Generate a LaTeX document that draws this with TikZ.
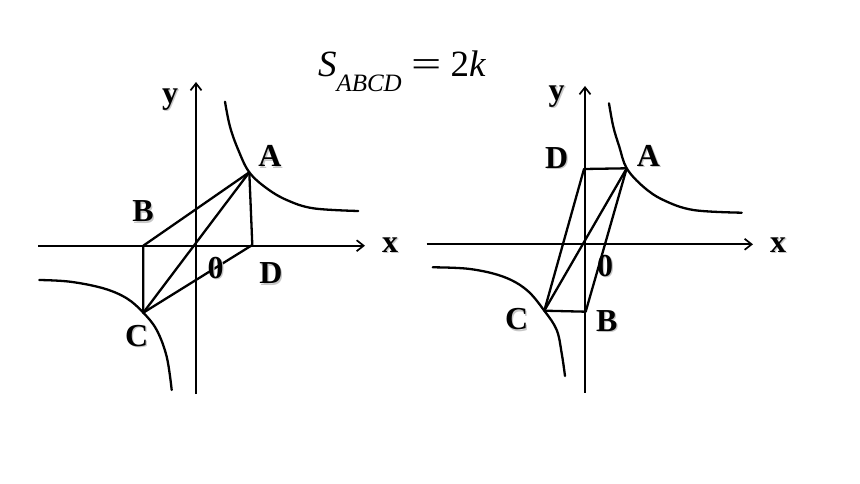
\documentclass[tikz,border=0pt]{standalone}
\usepackage{fontspec}
\setmainfont{Liberation Serif}
\usetikzlibrary{arrows.meta}
\newcommand\shlbl[1]{\makebox[0pt][l]{\hspace*{1.3pt}\raisebox{-1.3pt}{\color{black!22}#1}}#1}
\tikzset{
  axisline/.style={line width=2pt,-{Straight Barb[length=7pt,width=11pt,line width=1.7pt]}},
  edge/.style={line width=2.3pt,line join=round},
  hyper/.style={line width=2.3pt,line cap=round},
  lab/.style={inner sep=0pt,font=\fontsize{32}{32}\selectfont\bfseries},
  title/.style={inner sep=0pt,font=\fontsize{37}{37}\selectfont}
}
\begin{document}
\begin{tikzpicture}[x=1pt,y=-1pt]
\useasboundingbox[fill=white] (0,0) rectangle (860,484);
% title
\node[title,anchor=base] (t) at (402,77) {\textit{S}\raisebox{-0.38em}{\fontsize{25}{25}\selectfont\textit{ABCD}}\hspace{0.25em}\scalebox{1.45}[1]{=}\hspace{0.25em}2\textit{k}};
% ---------- left figure ----------
\coordinate (Lxs) at (38,245.7);
\coordinate (Lxe) at (365,245.7);
\coordinate (Lys) at (196,394);
\coordinate (Lye) at (196,82);
\draw[axisline] (Lxs) -- (Lxe);
\draw[axisline] (Lys) -- (Lye);
\coordinate (LA) at (249.3,172.3);
\coordinate (LB) at (143.3,245.7);
\coordinate (LC) at (143.3,312.7);
\coordinate (LD) at (252.3,245);
\draw[edge] (LA) -- (LB) -- (LC) -- (LD) -- cycle;
\draw[edge] (LA) -- (LC);
\draw[hyper] plot[smooth,tension=0.6] coordinates {(225,101.7) (230,126.7) (238.3,150) (249.3,172.3) (266.7,188.3) (286.7,200) (313.3,208.3) (358.3,211)};
\draw[hyper] plot[smooth,tension=0.6] coordinates {(39.3,280) (70,281.7) (103.3,288.3) (126.7,298.3) (143.3,312.7) (156.7,330) (166.7,356.7) (171.7,390)};
\node[lab] (Ly) at (170,100) {\shlbl{y}};
\node[lab] (LlA) at (270,157) {\shlbl{A}};
\node[lab] (LlB) at (143,212) {\shlbl{B}};
\node[lab] (Llx) at (390,246) {\shlbl{x}};
\node[lab] (Ll0) at (215.5,268.3) {\shlbl{0}};
\node[lab] (LlD) at (271,274) {\shlbl{D}};
\node[lab] (LlC) at (136.7,336.7) {\shlbl{C}};
% ---------- right figure ----------
\coordinate (Rxs) at (426.7,244.3);
\coordinate (Rxe) at (753,244.3);
\coordinate (Rys) at (585,392.7);
\coordinate (Rye) at (585,86);
\draw[axisline] (Rxs) -- (Rxe);
\draw[axisline] (Rys) -- (Rye);
\coordinate (RA) at (626.7,168.3);
\coordinate (RB) at (585.7,311.7);
\coordinate (RC) at (544.3,310.7);
\coordinate (RD) at (584,169);
\draw[edge] (RD) -- (RA) -- (RB) -- (RC) -- cycle;
\draw[edge] (RA) -- (RC);
\draw[hyper] plot[smooth,tension=0.6] coordinates {(609,103.3) (613.3,126.7) (619.3,146.7) (626.7,168.3) (643.3,186.7) (663.3,200) (693.3,210) (741.7,212.7)};
\draw[hyper] plot[smooth,tension=0.6] coordinates {(432.7,267.3) (470,269) (503.3,276.7) (526.7,290) (544.3,310.7) (556.7,330) (561.7,353.3) (565,376)};
\node[lab] (Ry) at (556.7,97) {\shlbl{y}};
\node[lab] (RlD) at (556.7,158.3) {\shlbl{D}};
\node[lab] (RlA) at (648.3,156.7) {\shlbl{A}};
\node[lab] (Rlx) at (778,246) {\shlbl{x}};
\node[lab] (Rl0) at (605,266.7) {\shlbl{0}};
\node[lab] (RlC) at (516.7,320) {\shlbl{C}};
\node[lab] (RlB) at (606.7,321.7) {\shlbl{B}};
\end{tikzpicture}
\end{document}
